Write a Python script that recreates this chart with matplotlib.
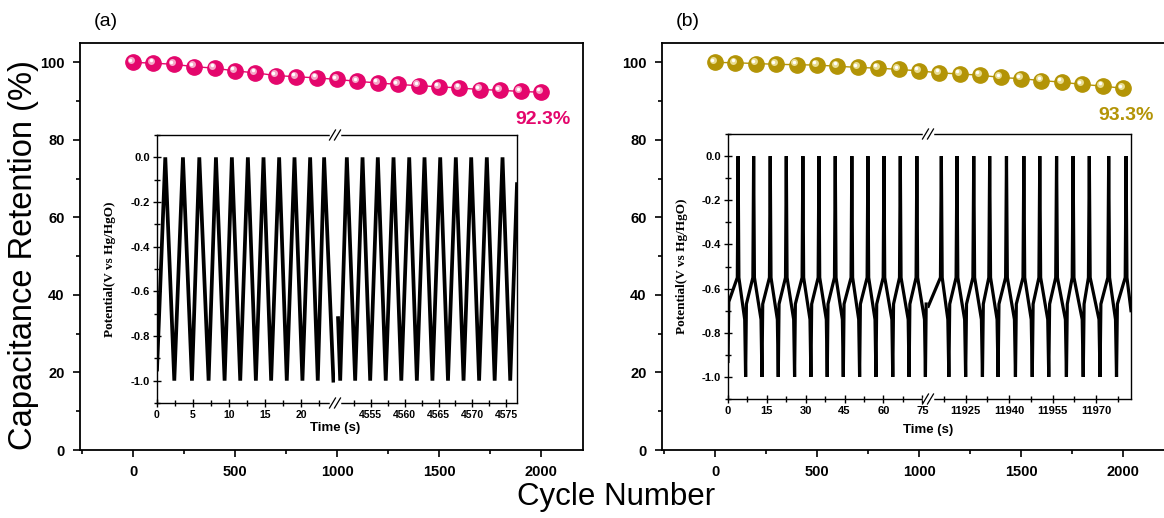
import matplotlib
matplotlib.use("Agg")
import matplotlib.pyplot as plt
from matplotlib.lines import Line2D
from matplotlib.transforms import offset_copy
from matplotlib.ticker import MultipleLocator, FixedLocator

plt.rcParams['font.family'] = ['Liberation Sans', 'DejaVu Sans']
plt.rcParams['axes.unicode_minus'] = False

# capacitance retention
cycles = [0, 100, 200, 300, 400, 500, 600, 700, 800, 900, 1000,
          1100, 1200, 1300, 1400, 1500, 1600, 1700, 1800, 1900, 2000]
ret_a = [100, 99.8, 99.5, 98.9, 98.5, 97.8, 97.3, 96.6, 96.3, 96.0, 95.6,
         95.1, 94.7, 94.3, 94.0, 93.7, 93.4, 93.0, 92.8, 92.5, 92.3]
ret_b = [100, 99.9, 99.7, 99.5, 99.4, 99.3, 99.0, 98.7, 98.5, 98.2, 97.8,
         97.3, 97.0, 96.7, 96.1, 95.8, 95.3, 94.9, 94.3, 93.9, 93.3]

# inset (a): turning points of the charge/discharge curve
peaks_a1 = [1.15, 3.6, 5.87, 8.18, 10.39, 12.61, 14.78, 16.95, 19.08, 21.25, 23.19]
vall_a1 = [2.40, 4.85, 7.16, 9.38, 11.55, 13.72, 15.84, 18.01, 20.18, 22.31, 24.48]
peaks_a2 = [4551.45, 4553.77, 4556.03, 4558.35, 4560.67, 4562.93, 4565.25,
            4567.56, 4569.83, 4572.14, 4574.46]
vall_a2 = [4550.47, 4552.68, 4554.9, 4557.2, 4559.5, 4561.8, 4564.1, 4566.4,
           4568.7, 4571.0, 4573.3, 4575.6]

# inset (b): times of the spikes up to 0.0 V and down to -1.0 V
tops_b1 = [3.9, 9.9, 16.3, 22.5, 28.9, 35.1, 41.4, 47.8, 54.0, 60.2, 66.5, 72.9]
bots_b1 = [6.8, 13.1, 19.4, 25.7, 32.0, 38.3, 44.5, 50.8, 57.1, 63.6, 69.9, 76.2]
tops_b2 = [11916.6, 11922.0, 11927.8, 11933.3, 11939.1, 11945.1, 11950.6,
           11956.4, 11962.1, 11967.7, 11974.4, 11980.4]
bots_b2 = [11919.2, 11925.0, 11930.8, 11936.2, 11942.2, 11948.0, 11953.7,
           11959.8, 11965.6, 11971.4, 11977.1]

pink = '#e4066c'
gold = '#b39406'

W, H = 1164, 518
fig = plt.figure(figsize=(W / 100, H / 100), dpi=100)


def fpos(l, t, r, b):
    return [l / W, 1 - b / H, (r - l) / W, (b - t) / H]


def tri_trace(peaks, valleys, t0, v0, t1=None, v1=None):
    pts = [(t, 0.0) for t in peaks] + [(t, -1.0) for t in valleys]
    pts.sort()
    pts = [(t0, v0)] + pts
    if t1 is not None:
        pts.append((t1, v1))
    return [p[0] for p in pts], [p[1] for p in pts]


def spike_trace(tops, bots, start, end):
    ev = [(t, 'top') for t in tops] + [(t, 'bot') for t in bots]
    ev.sort()
    pts = list(start)
    for t, kind in ev:
        if kind == 'top':
            pts += [(t - 0.3, -0.55), (t, 0.0), (t + 0.3, -0.55)]
        else:
            pts += [(t - 0.35, -0.74), (t, -1.0), (t + 0.3, -0.67)]
    pts += list(end)
    return [p[0] for p in pts], [p[1] for p in pts]


def main_axes(rect, ret, color, label_txt, label_xy):
    ax = fig.add_axes(rect)
    ax.set_xlim(-260, 2206)
    ax.set_ylim(0, 105)
    ax.plot(cycles, ret, '-', color=color, lw=1.0, zorder=3)
    ax.plot(cycles, ret, 'o', color=color, ms=11, mec=color, zorder=4)
    hl = offset_copy(ax.transData, fig=fig, x=-1.6, y=1.6, units='points')
    ax.plot(cycles, ret, 'o', color='#f5a6c8' if color == pink else '#e8dc90',
            ms=5, mew=0, transform=hl, zorder=5)
    hl2 = offset_copy(ax.transData, fig=fig, x=-2.0, y=2.0, units='points')
    ax.plot(cycles, ret, 'o', color='white', ms=2.5, mew=0, transform=hl2, zorder=6)
    ax.text(label_xy[0] / W, 1 - label_xy[1] / H, label_txt, transform=fig.transFigure,
            color=color, fontsize=14, fontweight='bold', ha='center', va='center')
    ax.xaxis.set_major_locator(MultipleLocator(500))
    ax.xaxis.set_minor_locator(MultipleLocator(250))
    ax.yaxis.set_major_locator(MultipleLocator(20))
    ax.yaxis.set_minor_locator(MultipleLocator(10))
    ax.tick_params(which='both', direction='out', top=False, right=False,
                   width=1.2, labelsize=10.5)
    ax.tick_params(which='major', length=5, pad=6)
    ax.tick_params(which='minor', length=3)
    for lab in ax.get_xticklabels() + ax.get_yticklabels():
        lab.set_fontweight('bold')
    for s in ax.spines.values():
        s.set_linewidth(1.3)
    return ax


def break_mark(xp, yp):
    # white gap in the spine plus "//"
    fig.add_artist(Line2D([(xp - 4) / W, (xp + 4) / W], [1 - yp / H, 1 - yp / H],
                          transform=fig.transFigure, color='white', lw=2.5))
    for dx in (-2.5, 2.5):
        fig.add_artist(Line2D([(xp + dx - 3) / W, (xp + dx + 3) / W],
                              [1 - (yp + 5) / H, 1 - (yp - 5) / H],
                              transform=fig.transFigure, color='black', lw=0.9))


def inset(l, xb, r, t, b, xl1, xl2, ticks1, minor1, ticks2, minor2, tr1, tr2, lw,
          ylab_x, xlab_y, xlab_size):
    a1 = fig.add_axes(fpos(l, t, xb, b))
    a2 = fig.add_axes(fpos(xb, t, r, b))
    a1.plot(tr1[0], tr1[1], color='black', lw=lw, solid_joinstyle='miter')
    a2.plot(tr2[0], tr2[1], color='black', lw=lw, solid_joinstyle='miter')
    a1.set_xlim(*xl1)
    a2.set_xlim(*xl2)
    for a in (a1, a2):
        a.set_ylim(-1.1, 0.1)
        for s in a.spines.values():
            s.set_linewidth(1.0)
        a.tick_params(which='both', direction='inout', top=False, right=False,
                      labelsize=xlab_size, pad=2, width=1.0)
        a.tick_params(which='major', length=6)
        a.tick_params(which='minor', length=4)
    a1.spines['right'].set_visible(False)
    a2.spines['left'].set_visible(False)
    a2.tick_params(axis='y', which='both', left=False, labelleft=False)
    a1.xaxis.set_major_locator(FixedLocator(ticks1))
    a1.xaxis.set_minor_locator(FixedLocator(minor1))
    a2.xaxis.set_major_locator(FixedLocator(ticks2))
    a2.xaxis.set_minor_locator(FixedLocator(minor2))
    a1.yaxis.set_major_locator(MultipleLocator(0.2))
    a1.yaxis.set_minor_locator(MultipleLocator(0.1))
    a1.set_yticklabels([f'{v:.1f}' for v in a1.get_yticks()])
    a1.set_ylim(-1.1, 0.1)
    for lab in (a1.get_xticklabels() + a1.get_yticklabels() + a2.get_xticklabels()):
        lab.set_fontweight('bold')
    for lab in a1.get_yticklabels():
        lab.set_fontsize(8)
    a1.set_ylabel('Potential(V vs Hg/HgO)', family='Liberation Serif',
                  fontweight='bold', fontsize=9.5)
    a1.yaxis.set_label_coords(ylab_x, 0.5)
    fig.text(xb / W, 1 - xlab_y / H, 'Time (s)', fontsize=9.5, fontweight='bold',
             ha='center', va='center')
    break_mark(xb, t)
    break_mark(xb, b)
    return a1, a2


ax_a = main_axes(fpos(80, 43, 583, 450), ret_a, pink, '92.3%', (543, 120))
ax_b = main_axes(fpos(662, 43, 1165, 450), ret_b, gold, '93.3%', (1126, 116))

tr_a1 = tri_trace(peaks_a1, vall_a1, 0.0, -0.95)
tr_a2 = tri_trace(peaks_a2, vall_a2, 4550.15, -0.72, 4576.6, -0.12)
inset(157, 335, 517, 135, 403, (0, 24.7), (4549.7, 4576.6),
      [0, 5, 10, 15, 20], [2.5, 7.5, 12.5, 17.5, 22.5],
      [4555, 4560, 4565, 4570, 4575], [4552.5, 4557.5, 4562.5, 4567.5, 4572.5],
      tr_a1, tr_a2, 2.7, -0.23, 428, 7.5)

tr_b1 = spike_trace(tops_b1, bots_b1, [(0.0, -0.93), (0.3, -0.66)], [])
tr_b2 = spike_trace(tops_b2, bots_b2, [(11912.1, -0.68)], [(11982.1, -0.7)])
inset(728, 928, 1131, 134, 399, (0, 77.2), (11912.0, 11982.1),
      [0, 15, 30, 45, 60, 75], [7.5, 22.5, 37.5, 52.5, 67.5],
      [11925, 11940, 11955, 11970], [11917.5, 11932.5, 11947.5, 11962.5, 11977.5],
      tr_b1, tr_b2, 2.3, -0.2, 430, 8)

fig.text(106 / W, 1 - 22 / H, '(a)', fontsize=14, ha='center', va='center')
fig.text(688 / W, 1 - 22 / H, '(b)', fontsize=14, ha='center', va='center')
fig.text(24 / W, 1 - 255 / H, 'Capacitance Retention (%)', fontsize=23.5,
         rotation=90, ha='center', va='center')
fig.text(616 / W, 1 - 497 / H, 'Cycle Number', fontsize=22.5, ha='center', va='center')

fig.savefig('out.png', dpi=100)
